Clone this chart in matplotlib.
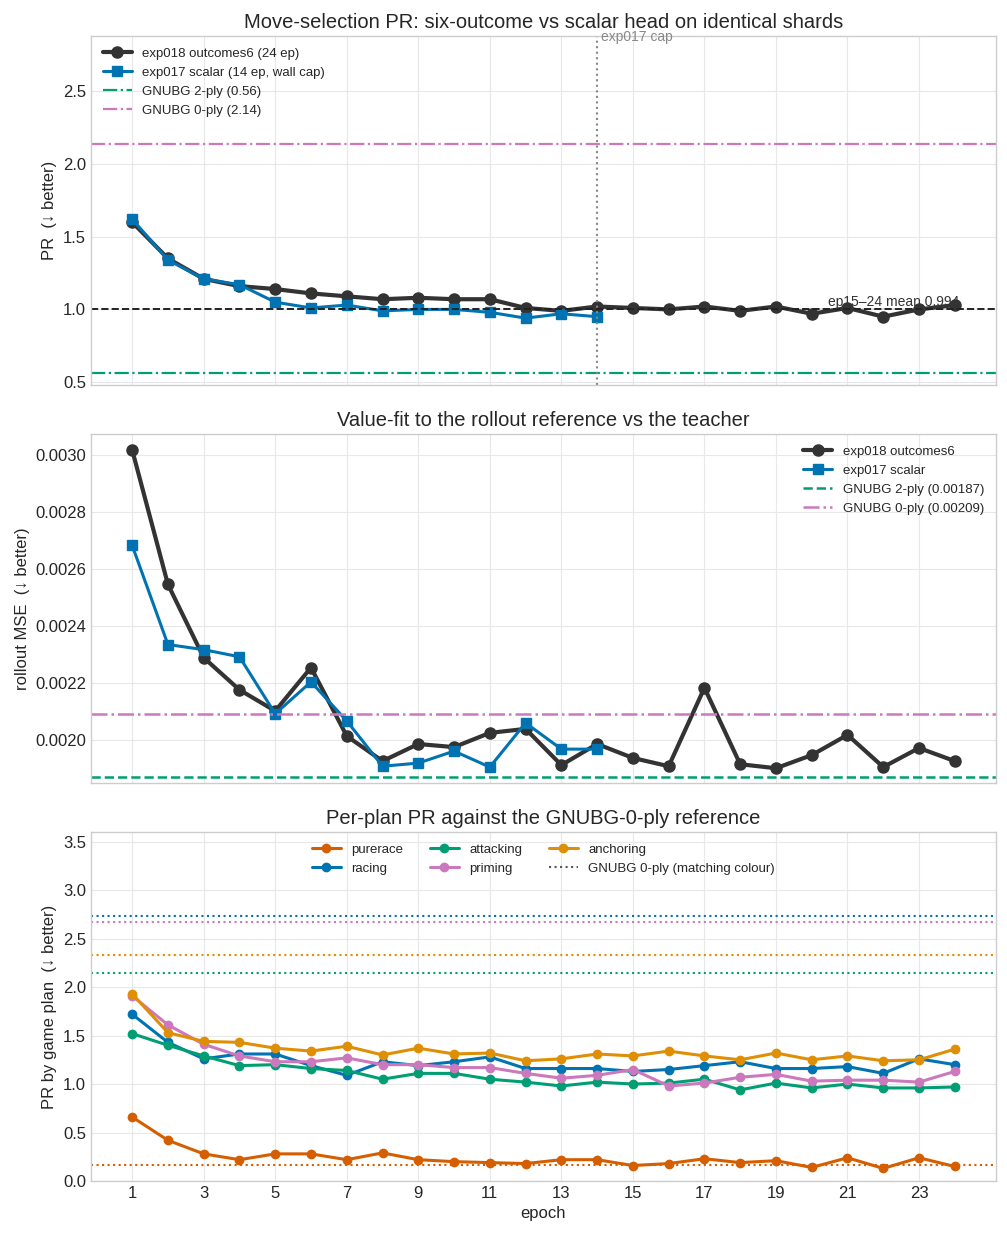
import matplotlib
matplotlib.use('Agg')
import matplotlib.pyplot as plt
import numpy as np

plt.style.use('seaborn-v0_8-whitegrid')
plt.rcParams['font.family'] = ['Liberation Sans', 'DejaVu Sans']
plt.rcParams['grid.color'] = '#e8e8e8'

epochs = np.arange(1, 25)
epochs17 = np.arange(1, 15)

# move-selection PR
pr18 = [1.60, 1.35, 1.21, 1.16, 1.14, 1.11, 1.09, 1.07, 1.08, 1.07, 1.07, 1.01,
        0.99, 1.02, 1.01, 1.00, 1.02, 0.99, 1.02, 0.97, 1.01, 0.95, 1.00, 1.03]
pr17 = [1.62, 1.34, 1.21, 1.17, 1.05, 1.01, 1.03, 0.99, 1.00, 1.00, 0.98, 0.94, 0.97, 0.95]
gnubg2_pr, gnubg0_pr = 0.56, 2.14

# rollout MSE
mse18 = [0.003018, 0.002546, 0.002289, 0.002176, 0.002102, 0.002254, 0.002014, 0.001926,
         0.001986, 0.001975, 0.002025, 0.002039, 0.001912, 0.001986, 0.001937, 0.001908,
         0.002183, 0.001915, 0.001901, 0.001947, 0.002018, 0.001905, 0.001972, 0.001926]
mse17 = [0.002683, 0.002335, 0.002317, 0.002292, 0.002092, 0.002204, 0.002067, 0.001908,
         0.001919, 0.001961, 0.001905, 0.002060, 0.001968, 0.001968]
gnubg2_mse, gnubg0_mse = 0.00187, 0.00209

# per-plan PR
plans = ['purerace', 'racing', 'attacking', 'priming', 'anchoring']
plan_pr = {
    'purerace': [0.66, 0.42, 0.28, 0.22, 0.28, 0.28, 0.22, 0.29, 0.22, 0.20, 0.19, 0.18,
                 0.22, 0.22, 0.16, 0.18, 0.23, 0.19, 0.21, 0.14, 0.24, 0.13, 0.24, 0.15],
    'racing': [1.72, 1.43, 1.26, 1.31, 1.31, 1.19, 1.09, 1.23, 1.19, 1.23, 1.28, 1.16,
               1.16, 1.16, 1.13, 1.15, 1.19, 1.23, 1.16, 1.16, 1.18, 1.11, 1.26, 1.20],
    'attacking': [1.52, 1.40, 1.29, 1.19, 1.20, 1.16, 1.14, 1.05, 1.11, 1.11, 1.05, 1.02,
                  0.98, 1.02, 1.00, 1.01, 1.05, 0.94, 1.01, 0.96, 1.00, 0.96, 0.96, 0.97],
    'priming': [1.91, 1.61, 1.41, 1.29, 1.23, 1.23, 1.27, 1.20, 1.20, 1.17, 1.17, 1.11,
                1.06, 1.09, 1.15, 0.98, 1.01, 1.07, 1.10, 1.03, 1.04, 1.04, 1.02, 1.13],
    'anchoring': [1.93, 1.53, 1.44, 1.43, 1.37, 1.34, 1.39, 1.30, 1.37, 1.31, 1.32, 1.24,
                  1.26, 1.31, 1.29, 1.34, 1.29, 1.25, 1.32, 1.25, 1.29, 1.24, 1.25, 1.36],
}
plan_ref = {'purerace': 0.165, 'racing': 2.73, 'attacking': 2.15, 'priming': 2.67, 'anchoring': 2.33}
plan_col = {'purerace': '#d55e00', 'racing': '#0173b2', 'attacking': '#029e73',
            'priming': '#cc78bc', 'anchoring': '#de8f05'}

C18, C17 = '#333333', '#0173b2'
CG2, CG0 = '#029e73', '#cc78bc'

fig, (ax1, ax2, ax3) = plt.subplots(3, 1, figsize=(10.07, 12.35), dpi=100, sharex=True)
fig.subplots_adjust(left=0.0904, right=0.989, top=0.9709, bottom=0.0437, hspace=0.14)

for ax in (ax1, ax2, ax3):
    for s in ax.spines.values():
        s.set_visible(True)
        s.set_color('#cccccc')
    ax.tick_params(labelsize=12)

leg_kw = dict(fontsize=9.5, frameon=False, handlelength=2.2)

# panel 1
ax1.plot(epochs, pr18, '-o', color=C18, lw=3, ms=8, label='exp018 outcomes6 (24 ep)')
ax1.plot(epochs17, pr17, '-s', color=C17, lw=2.2, ms=7, label='exp017 scalar (14 ep, wall cap)')
ax1.axhline(gnubg2_pr, color=CG2, ls='-.', lw=1.6, label='GNUBG 2-ply (0.56)')
ax1.axhline(gnubg0_pr, color=CG0, ls='-.', lw=1.6, label='GNUBG 0-ply (2.14)')
ax1.axhline(1.0, color='#222222', ls='--', lw=1.4)
late = np.array(pr18[14:])
m = late.mean()
ax1.fill_between(epochs[14:], m - late.std() * 0.3, m + late.std() * 0.3, color='#bbbbbb', alpha=0.4, lw=0)
ax1.text(22.3, m + 0.005, 'ep15–24 mean 0.994', fontsize=10, color='#333333', ha='center', va='bottom')
ax1.axvline(14, color='#888888', ls=':', lw=1.5)
ax1.text(14.1, 2.87, 'exp017 cap', fontsize=10, color='#888888', va='center')
ax1.set_ylim(0.48, 2.88)
ax1.set_yticks([0.5, 1.0, 1.5, 2.0, 2.5])
ax1.set_ylabel('PR  (↓ better)', fontsize=12)
ax1.set_title('Move-selection PR: six-outcome vs scalar head on identical shards', fontsize=14.5)
ax1.legend(loc='upper left', **leg_kw)

# panel 2
ax2.plot(epochs, mse18, '-o', color=C18, lw=3, ms=8, label='exp018 outcomes6')
ax2.plot(epochs17, mse17, '-s', color=C17, lw=2.2, ms=7, label='exp017 scalar')
ax2.axhline(gnubg2_mse, color=CG2, ls='--', lw=1.8, label='GNUBG 2-ply (0.00187)')
ax2.axhline(gnubg0_mse, color=CG0, ls='-.', lw=1.8, label='GNUBG 0-ply (0.00209)')
ax2.set_ylim(0.001849, 0.003074)
ax2.set_ylabel('rollout MSE  (↓ better)', fontsize=12)
ax2.set_title('Value-fit to the rollout reference vs the teacher', fontsize=14.5)
ax2.legend(loc='upper right', **leg_kw)

# panel 3
for p in plans:
    ax3.plot(epochs, plan_pr[p], '-o', color=plan_col[p], lw=2.2, ms=6, label=p)
for p in plans:
    ax3.axhline(plan_ref[p], color=plan_col[p], ls=':', lw=1.5)
ax3.plot([], [], ':', color='#555555', lw=1.5, label='GNUBG 0-ply (matching colour)')
ax3.set_ylim(0, 3.6)
ax3.set_yticks(np.arange(0, 3.6, 0.5))
ax3.set_ylabel('PR by game plan  (↓ better)', fontsize=12)
ax3.set_xlabel('epoch', fontsize=12)
ax3.set_title('Per-plan PR against the GNUBG-0-ply reference', fontsize=14.5)
ax3.set_xticks(np.arange(1, 24, 2))
ax3.legend(loc='upper center', ncol=3, **leg_kw)

fig.savefig('out.png', dpi=100)
